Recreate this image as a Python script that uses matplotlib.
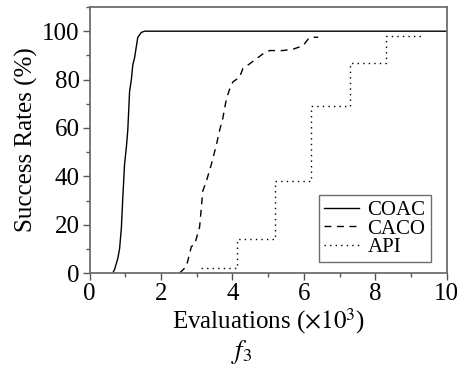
import matplotlib
matplotlib.use("Agg")
import matplotlib.pyplot as plt
from matplotlib.ticker import MultipleLocator

plt.rc('font', family='Liberation Serif', size=18)
plt.rc('mathtext', fontset='stix')

# success rate curves (evaluations in thousands, rate in %)
coac_x = [0.65, 0.70, 0.79, 0.84, 0.89, 0.93, 0.98, 1.03, 1.07, 1.12, 1.17,
          1.21, 1.26, 1.35, 1.45, 1.54, 10.0]
coac_y = [0, 1.5, 6, 10, 18.5, 31, 45, 52, 59, 75, 80, 86, 89, 97.5, 99.5, 100, 100]

caco_x = [2.52, 2.71, 2.85, 2.94, 3.08, 3.17, 3.27, 3.41, 3.55, 3.64, 3.73,
          3.83, 3.92, 4.01, 4.20, 4.29, 4.48, 4.67, 4.85, 5.04, 5.41, 5.70,
          5.98, 6.12, 6.21, 6.40]
caco_y = [0, 2.7, 11, 11.7, 19, 34, 38, 45, 53, 59, 64, 72, 76, 79, 81, 84.5,
          86.5, 88.6, 90.6, 92, 92, 92.6, 94, 96.8, 97.5, 97.5]

api_x = [3.13, 4.14, 5.18, 6.20, 7.28, 8.31, 9.34]
api_y = [2, 14, 38, 69, 87, 98, 98]

fig = plt.figure(figsize=(4.64, 3.69), dpi=100)
ax = fig.add_axes([0.193, 0.26, 0.77, 0.721])

ax.plot(coac_x, coac_y, color='black', lw=1.0, ls='-', label='COAC')
ax.plot(caco_x, caco_y, color='black', lw=1.0, ls=(0, (5, 4)), label='CACO')
ax.step(api_x, api_y, where='post', color='black', lw=1.0, ls=(0, (1, 3)), label='API')

ax.set_xlim(0, 10)
ax.set_ylim(0, 110)
ax.xaxis.set_major_locator(MultipleLocator(2))
ax.xaxis.set_minor_locator(MultipleLocator(1))
ax.yaxis.set_minor_locator(MultipleLocator(10))
ax.set_yticks([0, 20, 40, 60, 80, 100])
ax.tick_params(which='major', direction='out', length=5, width=1.0, color='#555555', pad=2)
ax.tick_params(which='minor', direction='out', length=3, width=1.0, color='#555555')
for sp in ax.spines.values():
    sp.set_color('#6e6e6e')
    sp.set_linewidth(1.3)

ax.set_ylabel('Success Rates (%)', labelpad=3)
ax.set_xlabel(r'Evaluations ($\times10^3$)', labelpad=1)
fig.text(0.52, 0.045, r'$f_3$', ha='center', va='center', fontsize=19)

lg = ax.legend(loc='lower right', bbox_to_anchor=(0.955, 0.04), fancybox=False,
               edgecolor='#6e6e6e', framealpha=1, handlelength=1.7, fontsize=15,
               handletextpad=0.4, labelspacing=-0.05, borderpad=0.25,
               borderaxespad=0)
lg.get_frame().set_linewidth(1.0)

fig.savefig('out.png', dpi=100)
